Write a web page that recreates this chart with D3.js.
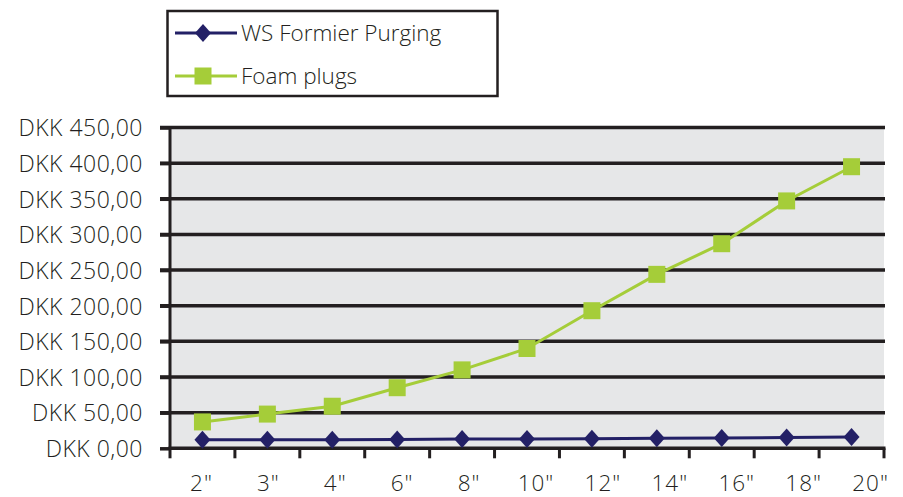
<!DOCTYPE html>
<html>
<head>
<meta charset="utf-8">
<script src="https://cdn.jsdelivr.net/npm/d3@7"></script>
<style>
  html, body { margin: 0; padding: 0; background: #ffffff; }
  svg { display: block; }
  text { font-family: "Open Sans", "Noto Sans", sans-serif; fill: #231f20; }
</style>
</head>
<body>
<div id="chart"></div>
<script>
// ---- data ----
const categories = ['2"', '3"', '4"', '6"', '8"', '10"', '12"', '14"', '16"', '18"', '20"'];
const wsFormier = [12, 12, 12, 12.5, 13, 13, 13.5, 14, 14.5, 15, 16];
const foamPlugs = [37, 48, 59, 85, 110, 140, 193, 244, 287, 347, 395];
const yTicks = [0, 50, 100, 150, 200, 250, 300, 350, 400, 450];
const seriesNames = ["WS Formier Purging", "Foam plugs"];

// ---- layout ----
const W = 903, H = 497;
const plot = { left: 170, right: 884, top: 127.5, bottom: 448.3 };
const ink = "#231f20";
const navy = "#232066";
const green = "#a5cd39";

const svg = d3.select("#chart").append("svg").attr("width", W).attr("height", H);

const x = d3.scaleBand().domain(categories).range([plot.left, plot.right]);
const y = d3.scaleLinear().domain([0, 450]).range([plot.bottom, plot.top]);
// tick labels in the reference drift slightly right of band centres
const xLabel = d3.scalePoint().domain(categories)
  .range([x(categories[0]) + x.bandwidth() / 2 - 1, x(categories[categories.length - 1]) + x.bandwidth() / 2 + 19]);

// plot background
svg.append("rect")
  .attr("x", plot.left).attr("y", plot.top)
  .attr("width", plot.right - plot.left).attr("height", plot.bottom - plot.top)
  .attr("fill", "#e6e7e8");

// gridlines
svg.append("g").selectAll("line").data(yTicks.filter(d => d > 0)).join("line")
  .attr("x1", plot.left - 10).attr("x2", plot.right + 1)
  .attr("y1", d => y(d)).attr("y2", d => y(d))
  .attr("stroke", ink).attr("stroke-width", 3.5);

// y axis
const yAxis = svg.append("g").attr("transform", `translate(${plot.left},0)`)
  .call(d3.axisLeft(y).tickValues(yTicks).tickSize(10).tickPadding(17)
    .tickFormat(d => "DKK " + d3.format(".2f")(d).replace(".", ",")));
yAxis.select(".domain").attr("stroke", ink).attr("stroke-width", 3)
  .attr("d", `M0,${plot.top - 1.5}V${plot.bottom + 1.5}`);
yAxis.selectAll(".tick line").attr("stroke", ink).attr("stroke-width", 3.5);
yAxis.selectAll(".tick text").attr("font-size", 23).attr("font-weight", 300)
  .attr("fill", ink).attr("dy", "0.36em").attr("letter-spacing", 0.5);

// x axis line + ticks at band boundaries
const xAxis = svg.append("g").attr("transform", `translate(0,${plot.bottom})`);
xAxis.append("line").attr("x1", plot.left - 1.5).attr("x2", plot.right + 1.5)
  .attr("y1", 0).attr("y2", 0).attr("stroke", ink).attr("stroke-width", 3.5);
const boundaries = categories.map(c => x(c)).concat([plot.right]);
xAxis.selectAll("line.tk").data(boundaries).join("line").attr("class", "tk")
  .attr("x1", d => d).attr("x2", d => d).attr("y1", 0).attr("y2", 10)
  .attr("stroke", ink).attr("stroke-width", 3);
xAxis.selectAll("text").data(categories).join("text")
  .attr("x", d => xLabel(d)).attr("y", 42.5)
  .attr("text-anchor", "middle").attr("font-size", 22.5).attr("font-weight", 300)
  .attr("letter-spacing", 1)
  .text(d => d);

// series
const cx = c => x(c) + x.bandwidth() / 2;
const line = d3.line().x(d => cx(d.c)).y(d => y(d.v));

const foam = categories.map((c, i) => ({ c, v: foamPlugs[i] }));
const ws = categories.map((c, i) => ({ c, v: wsFormier[i] }));

svg.append("path").datum(foam).attr("d", line)
  .attr("fill", "none").attr("stroke", green).attr("stroke-width", 3);
svg.append("g").selectAll("rect").data(foam).join("rect")
  .attr("x", d => cx(d.c) - 8.5).attr("y", d => y(d.v) - 8.5)
  .attr("width", 17).attr("height", 17).attr("fill", green);

svg.append("path").datum(ws).attr("d", line)
  .attr("fill", "none").attr("stroke", navy).attr("stroke-width", 3);
const diamond = "M0,-9L8,0L0,9L-8,0Z";
svg.append("g").selectAll("path").data(ws).join("path")
  .attr("transform", d => `translate(${cx(d.c)},${y(d.v)})`)
  .attr("d", diamond).attr("fill", navy);

// legend
const lg = svg.append("g");
lg.append("rect").attr("x", 167.5).attr("y", 11).attr("width", 330).attr("height", 85)
  .attr("fill", "#ffffff").attr("stroke", ink).attr("stroke-width", 2.5);
const rows = [
  { name: seriesNames[0], color: navy, shape: "diamond", yy: 33 },
  { name: seriesNames[1], color: green, shape: "square", yy: 76 }
];
rows.forEach(r => {
  lg.append("line").attr("x1", 175).attr("x2", 237).attr("y1", r.yy).attr("y2", r.yy)
    .attr("stroke", r.color).attr("stroke-width", 3);
  if (r.shape === "diamond") {
    lg.append("path").attr("transform", `translate(203,${r.yy})`).attr("d", diamond).attr("fill", r.color);
  } else {
    lg.append("rect").attr("x", 203 - 8.5).attr("y", r.yy - 8.5).attr("width", 17).attr("height", 17).attr("fill", r.color);
  }
  lg.append("text").attr("x", 241).attr("y", r.yy).attr("dy", "0.36em")
    .attr("font-size", 22.5).attr("font-weight", 300).text(r.name);
});
</script>
</body>
</html>
